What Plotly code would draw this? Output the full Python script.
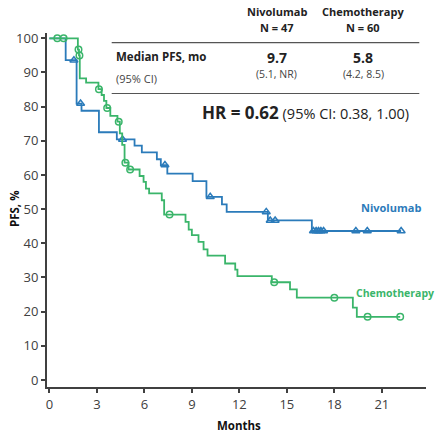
import plotly.graph_objects as go
import numpy as np

# ---------------- data ----------------
nivo_t = [0, 1.03, 1.72, 2.03, 3.13, 4.26, 5.38, 5.84, 6.79, 7.04, 7.45, 9.05, 9.92, 10.9, 11.2, 13.8, 16.58]
nivo_s = [100, 93.6, 80.9, 78.8, 72.5, 70.4, 68.6, 66.6, 64.6, 62.9, 60.4, 58.2, 53.6, 51.4, 49.2, 46.7, 43.6]
nivo_censor = [1.55, 1.97, 4.62, 7.3, 10.16, 13.7, 13.95, 14.26, 16.68, 16.85, 17.0, 17.15, 17.32, 19.36, 20.08, 22.22]

chemo_t = [0, 1.8, 1.87, 1.92, 2.32, 3.1, 3.3, 3.45, 3.6, 3.85, 4.3, 4.45, 4.6, 4.75, 5.0, 5.7, 5.95, 6.1, 6.3,
           7.1, 7.25, 8.6, 8.8, 9.0, 9.42, 9.74, 9.99, 11.1, 11.74, 11.88, 14.05, 15.2, 15.63, 19.17, 19.42]
chemo_s = [100, 96.7, 95.0, 88.3, 87.0, 85.1, 83.4, 81.7, 79.6, 77.3, 75.6, 72.2, 68.8, 63.6, 61.6, 59.7, 58.0, 56.0, 54.6,
           52.6, 48.4, 46.3, 44.0, 42.4, 40.4, 38.2, 36.4, 34.1, 32.3, 30.4, 28.6, 26.5, 24.1, 21.2, 18.5]
chemo_censor = [0.5, 0.9, 1.84, 1.9, 3.13, 3.65, 4.38, 4.8, 5.1, 7.59, 14.2, 18.0, 20.1, 22.16]

x_ticks = [0, 3, 6, 9, 12, 15, 18, 21]
y_ticks = [0, 10, 20, 30, 40, 50, 60, 70, 80, 90, 100]

arms = ["Nivolumab", "Chemotherapy"]
arm_n = ["N = 47", "N = 60"]
median_pfs = ["9.7", "5.8"]
median_ci = ["(5.1, NR)", "(4.2, 8.5)"]
hr_value = "0.62"
hr_ci = "(95% CI: 0.38, 1.00)"
x_title = "Months"
y_title = "PFS, %"

BLUE = "#2B7BBA"
GREEN = "#3AB56A"
AX = "#404040"
FONT = "Open Sans"


def level_at(times, surv, t):
    idx = int(np.searchsorted(np.array(times), t, side="right")) - 1
    return surv[max(idx, 0)]


fig = go.Figure()
for times, surv, cens, col, sym, msize in [
    (nivo_t, nivo_s, nivo_censor, BLUE, "triangle-up-open", 7),
    (chemo_t, chemo_s, chemo_censor, GREEN, "circle-open", 6.5),
]:
    xs = list(times) + [max(cens)]
    ys = list(surv) + [surv[-1]]
    fig.add_trace(go.Scatter(x=xs, y=ys, mode="lines", line=dict(color=col, width=1.8, shape="hv"),
                             hoverinfo="skip", showlegend=False))
    fig.add_trace(go.Scatter(x=cens, y=[level_at(times, surv, c) for c in cens], mode="markers",
                             marker=dict(symbol=sym, size=msize, color=col, line=dict(color=col, width=1.5)),
                             showlegend=False, cliponaxis=False))

W_FIG, H_FIG = 439, 435
L, R, T, B = 47, 13, 33, 48
PW = W_FIG - L - R
PH = H_FIG - T - B
BOT = H_FIG - B


def px(x):
    return (x - L) / PW


def py(y):
    return (BOT - y) / PH


fig.update_layout(
    width=W_FIG, height=H_FIG,
    margin=dict(l=L, r=R, t=T, b=B),
    paper_bgcolor="white", plot_bgcolor="white",
    font=dict(family=FONT, color=AX, size=12),
    xaxis=dict(range=[-0.15, 23.79], tickvals=x_ticks, showline=True, linecolor=AX, linewidth=2,
               ticks="outside", ticklen=4, tickwidth=1.5, tickcolor=AX, showgrid=False, zeroline=False,
               tickfont=dict(size=13, color=AX), ticklabelstandoff=0, automargin=False),
    yaxis=dict(range=[-2.05, 101.55], tickvals=y_ticks, showline=True, linecolor=AX, linewidth=2,
               ticks="outside", ticklen=4, tickwidth=1.5, tickcolor=AX, showgrid=False, zeroline=False,
               tickfont=dict(size=13, color=AX), automargin=False),
)

# table lines
for yl in [42.7, 93.5]:
    fig.add_shape(type="line", xref="paper", yref="paper", x0=px(111.7), x1=px(419.3), y0=py(yl), y1=py(yl),
                  line=dict(color="#555", width=1.2))

anns = []
col_x = [276.7, 363.3]
for i in range(2):
    anns.append(dict(x=px(col_x[i]), y=py(11.7), text=f"<b>{arms[i]}</b>", size=11, color="#222", anchor="center"))
    anns.append(dict(x=px(col_x[i]), y=py(27), text=f"<b>{arm_n[i]}</b>", size=11, color="#222", anchor="center"))
    anns.append(dict(x=px(col_x[i]), y=py(57.5), text=f"<b>{median_pfs[i]}</b>", size=14, color="#222", anchor="center"))
    anns.append(dict(x=px(col_x[i]), y=py(73.5), text=median_ci[i], size=10.5, color="#444", anchor="center"))
anns.append(dict(x=px(114), y=py(56.7), text="<b>Median PFS, mo</b>", size=11.5, color="#222", anchor="left"))
anns.append(dict(x=px(114), y=py(78.3), text="(95% CI)", size=11, color="#444", anchor="left"))
anns.append(dict(x=px(200), y=py(112.5),
                 text=f"<span style='font-size:17px'><b>HR = {hr_value}</b></span> {hr_ci}",
                 size=14.5, color="#222", anchor="left"))
anns.append(dict(x=px(390.5), y=py(207.5), text="<b>Nivolumab</b>", size=11, color=BLUE, anchor="center"))
anns.append(dict(x=px(436), y=py(293.3), text="<b>Chemotherapy</b>", size=10.5, color=GREEN, anchor="right"))
anns.append(dict(x=px(238.5), y=py(425), text=f"<b>{x_title}</b>", size=11.5, color="#111", anchor="center"))

for a in anns:
    fig.add_annotation(x=a["x"], y=a["y"], xref="paper", yref="paper", text=a["text"], showarrow=False,
                       xanchor=a["anchor"], yanchor="middle",
                       font=dict(family=FONT, size=a["size"], color=a["color"]))

fig.add_annotation(x=px(14), y=py(209), xref="paper", yref="paper", text=f"<b>{y_title}</b>", showarrow=False,
                   textangle=-90, xanchor="center", yanchor="middle",
                   font=dict(family=FONT, size=11.5, color="#111"))

fig.write_html("out.html")
